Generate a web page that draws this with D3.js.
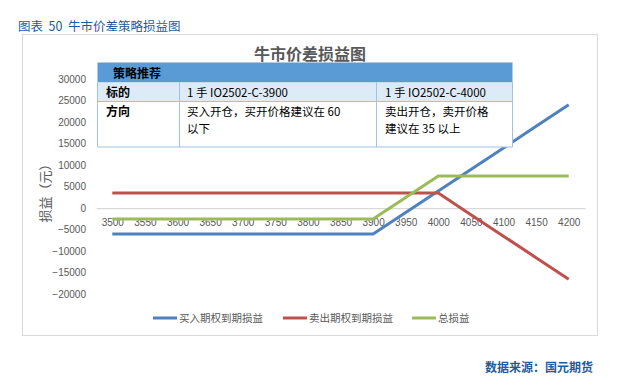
<!DOCTYPE html>
<html>
<head>
<meta charset="utf-8">
<script src="https://cdn.jsdelivr.net/npm/d3@7"></script>
<style>
  body { margin: 0; background: #fff; }
  svg text { font-family: "Liberation Sans", "Noto Sans CJK SC", sans-serif; }
  .cjk { font-family: "Noto Sans CJK SC", sans-serif; }
</style>
</head>
<body>
<div id="chart-area"></div>
<script>
const categories = ["3500", "3550", "3600", "3650", "3700", "3750", "3800", "3850", "3900", "3950", "4000", "4050", "4100", "4150", "4200"];
const buyValues = [-6000, -6000, -6000, -6000, -6000, -6000, -6000, -6000, -6000, -1000, 4000, 9000, 14000, 19000, 24000];
const sellValues = [3500, 3500, 3500, 3500, 3500, 3500, 3500, 3500, 3500, 3500, 3500, -1500, -6500, -11500, -16500];
const totalValues = [-2500, -2500, -2500, -2500, -2500, -2500, -2500, -2500, -2500, 2500, 7500, 7500, 7500, 7500, 7500];
const yTicks = [-20000, -15000, -10000, -5000, 0, 5000, 10000, 15000, 20000, 25000, 30000];
const seriesNames = ["买入期权到期损益", "卖出期权到期损益", "总损益"];
const seriesColors = ["#4f81bd", "#c0504d", "#9bbb59"];
const tableRows = [
    ["标的", ["1 手 IO2502-C-3900"], ["1 手 IO2502-C-4000"]],
    ["方向", ["买入开仓，买开价格建议在 60", "以下"], ["卖出开仓，卖开价格", "建议在 35 以上"]]
];

const width = 618;
const height = 391;

const svg = d3.select("#chart-area")
    .append("svg")
    .attr("width", width)
    .attr("height", height);

// figure caption
svg.append("text")
    .attr("class", "cjk")
    .attr("x", 18)
    .attr("y", 31)
    .attr("font-size", "12.5px")
    .style("fill", "#1f5aa0")
    .style("white-space", "pre")
    .text("图表  50  牛市价差策略损益图");

// chart frame
svg.append("rect")
    .attr("x", 22.5)
    .attr("y", 34.5)
    .attr("width", 575)
    .attr("height", 301)
    .attr("fill", "#fff")
    .attr("stroke", "#d9d9d9");

svg.append("text")
    .attr("class", "cjk")
    .attr("x", 310)
    .attr("y", 60)
    .attr("text-anchor", "middle")
    .attr("font-size", "16px")
    .attr("font-weight", "bold")
    .style("fill", "#595959")
    .text("牛市价差损益图");

const x = d3.scalePoint()
    .domain(categories)
    .range([96, 585])
    .padding(0.5);

const y = d3.scaleLinear()
    .domain([-20000, 30000])
    .range([294.3, 79]);

const g = svg.append("g");

// y axis labels
const leftAxis = d3.axisLeft(y)
    .tickValues(yTicks)
    .tickFormat(d3.format("d"))
    .tickSize(0)
    .tickPadding(2);
g.append("g")
    .attr("class", "left axis")
    .attr("transform", "translate(88, 0)")
    .call(leftAxis)
    .call(a => a.select(".domain").remove())
    .selectAll("text")
    .attr("font-size", "10px")
    .style("fill", "#595959");

g.append("text")
    .attr("class", "cjk")
    .attr("transform", "translate(50, 190) rotate(-90)")
    .attr("text-anchor", "middle")
    .attr("font-size", "13px")
    .style("fill", "#595959")
    .text("损益（元）");

// x axis at zero
const bottomAxis = d3.axisBottom(x)
    .tickSize(0)
    .tickPadding(11);
g.append("g")
    .attr("class", "bottom axis")
    .attr("transform", "translate(0, " + y(0) + ")")
    .call(bottomAxis)
    .call(a => a.select(".domain").attr("stroke", "#d9d9d9").attr("stroke-width", 1.2))
    .selectAll("text")
    .attr("font-size", "10px")
    .style("fill", "#595959");

// lines
const series = [buyValues, sellValues, totalValues];
const line = d3.line()
    .x((d, i) => x(categories[i]))
    .y(d => y(d));

g.selectAll("path.series")
    .data(series)
    .enter()
    .append("path")
    .attr("class", "series")
    .attr("d", d => line(d))
    .attr("fill", "none")
    .attr("stroke", (d, i) => seriesColors[i])
    .attr("stroke-width", 3);

// strategy table drawn over the plot
const tx = 97.5, c1 = 179.5, c2 = 376.5, tr = 512.5;
const rowY = [62.5, 82.5, 101.5, 147];
const tbl = svg.append("g");
tbl.append("rect")
    .attr("x", tx).attr("y", rowY[0])
    .attr("width", tr - tx).attr("height", rowY[3] - rowY[0])
    .attr("fill", "#fff");
tbl.append("rect")
    .attr("x", tx).attr("y", rowY[0])
    .attr("width", tr - tx).attr("height", rowY[1] - rowY[0])
    .attr("fill", "#5b9bd5");
tbl.append("rect")
    .attr("x", tx).attr("y", rowY[1])
    .attr("width", tr - tx).attr("height", rowY[2] - rowY[1])
    .attr("fill", "#ddebf7");
tbl.append("path")
    .attr("d", "M" + tx + "," + rowY[1] + "V" + rowY[3] + "H" + tr + "V" + rowY[1]
        + "M" + tx + "," + rowY[2] + "H" + tr
        + "M" + c1 + "," + rowY[1] + "V" + rowY[3]
        + "M" + c2 + "," + rowY[1] + "V" + rowY[3])
    .attr("fill", "none")
    .attr("stroke", "#9dc3e6")
    .attr("stroke-width", 1);

tbl.append("text")
    .attr("class", "cjk")
    .attr("x", 113)
    .attr("y", 77.5)
    .attr("font-size", "12px")
    .attr("font-weight", "bold")
    .style("fill", "#000")
    .text("策略推荐");

const rowBase = [96.5, 116];
tableRows.forEach((r, i) => {
    tbl.append("text")
        .attr("class", "cjk")
        .attr("x", 106)
        .attr("y", rowBase[i])
        .attr("font-size", "12px")
        .attr("font-weight", "bold")
        .style("fill", "#000")
        .text(r[0]);
    [r[1], r[2]].forEach((cell, j) => {
        cell.forEach((ln, k) => {
            tbl.append("text")
                .attr("class", "cjk")
                .attr("x", j === 0 ? 187 : 385)
                .attr("y", rowBase[i] + k * 17)
                .attr("font-size", "11.5px")
                .style("fill", "#000")
                .text(ln);
        });
    });
});

// legend
const legendX = [153, 283, 412];
const legend = svg.append("g");
seriesNames.forEach((name, i) => {
    legend.append("line")
        .attr("x1", legendX[i]).attr("x2", legendX[i] + 24)
        .attr("y1", 318).attr("y2", 318)
        .attr("stroke", seriesColors[i])
        .attr("stroke-width", 3);
    legend.append("text")
        .attr("class", "cjk")
        .attr("x", legendX[i] + 26)
        .attr("y", 322)
        .attr("font-size", "10.5px")
        .style("fill", "#595959")
        .text(name);
});

svg.append("text")
    .attr("class", "cjk")
    .attr("x", 593)
    .attr("y", 372)
    .attr("text-anchor", "end")
    .attr("font-size", "12px")
    .attr("font-weight", "bold")
    .style("fill", "#1f5aa0")
    .text("数据来源：国元期货");
</script>
</body>
</html>
